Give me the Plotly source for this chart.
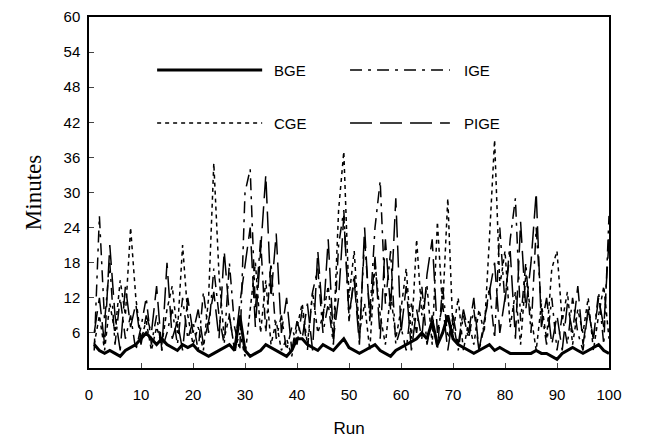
import plotly.graph_objects as go

runs = list(range(1, 101))

bge = [4, 3, 2.5, 3, 2.5, 2, 3, 3.5, 4, 5,
       6, 5, 4, 5, 4, 3.5, 3, 4, 3.5, 4,
       3, 2.5, 2, 2.5, 3, 3.5, 4, 3, 9, 3,
       2, 2.5, 3, 4, 3.5, 3, 2.5, 2, 3, 5,
       5, 4, 3.5, 3, 4, 3.5, 3, 4, 5, 3.5,
       3, 2.5, 3, 3.5, 4, 3, 2.5, 2, 3, 3.5,
       4, 4.5, 5, 6, 5, 8, 4, 6, 9, 5,
       4, 3.5, 3, 2.5, 3, 3.5, 4, 3, 3.5, 3,
       2.5, 2.5, 2.5, 2.5, 2.5, 3, 2.5, 2.5, 2, 1.5,
       2.5, 3, 3.5, 3, 2.5, 3, 3.5, 4, 3, 2.5]

cge = [4, 9, 3, 11, 6, 15, 9, 24, 12, 5,
       8, 3, 7, 4, 10, 14, 6, 21, 9, 4,
       7, 3, 12, 35, 16, 5, 9, 3, 6, 2,
       10, 18, 6, 15, 4, 8, 3, 5, 2, 7,
       11, 4, 13, 6, 9, 14, 5, 27, 37, 12,
       20, 6, 11, 3, 18, 9, 4, 13, 5, 10,
       17, 5, 22, 9, 14, 4, 25, 10, 29, 6,
       12, 3, 8, 4, 10, 6, 22, 39, 14, 20,
       7, 13, 4, 16, 9, 3, 11, 5, 17, 20,
       8, 13, 4, 10, 6, 12, 3, 9, 14, 5]

ige = [3, 26, 8, 18, 4, 12, 5, 9, 3, 7,
       12, 4, 9, 3, 6, 10, 4, 12, 5, 8,
       3, 13, 6, 17, 9, 4, 18, 7, 3, 30,
       34, 10, 22, 6, 18, 5, 9, 3, 7, 4,
       10, 3, 13, 17, 6, 11, 4, 21, 27, 8,
       16, 5, 22, 9, 24, 32, 11, 20, 4, 7,
       3, 11, 6, 14, 4, 9, 3, 14, 5, 8,
       3, 9, 5, 10, 3, 7, 14, 5, 24, 11,
       22, 29, 8, 18, 6, 24, 10, 4, 12, 3,
       9, 4, 12, 6, 3, 10, 5, 13, 4, 26]

pige = [6, 12, 4, 21, 9, 3, 14, 7, 11, 4,
        9, 6, 14, 3, 18, 5, 8, 3, 12, 6,
        10, 4, 8, 13, 5, 20, 9, 3, 11, 18,
        24, 7, 20, 33, 12, 23, 6, 12, 3, 8,
        5, 11, 3, 20, 8, 22, 5, 12, 26, 9,
        15, 4, 24, 8, 19, 5, 22, 10, 29, 6,
        14, 3, 10, 5, 16, 22, 6, 11, 3, 9,
        4, 10, 6, 12, 3, 8, 13, 18, 6, 12,
        20, 5, 25, 10, 18, 30, 7, 12, 4, 9,
        3, 11, 6, 14, 4, 10, 5, 12, 7, 22]

names = ["BGE", "IGE", "CGE", "PIGE"]
y_ticks = [6, 12, 18, 24, 30, 36, 42, 48, 54, 60]
x_ticks = [0, 10, 20, 30, 40, 50, 60, 70, 80, 90, 100]

styles = {
    "BGE": dict(width=3, dash="solid"),
    "IGE": dict(width=1.5, dash="12px,6px,3px,6px"),
    "CGE": dict(width=1.5, dash="4px,4px"),
    "PIGE": dict(width=1.5, dash="22px,8px"),
}
series = {"BGE": bge, "IGE": ige, "CGE": cge, "PIGE": pige}

fig = go.Figure()
for nm in ["CGE", "IGE", "PIGE", "BGE"]:
    fig.add_trace(go.Scatter(x=runs, y=series[nm], mode="lines", name=nm,
                             line=dict(color="black", **styles[nm]),
                             showlegend=False))

# manual legend (line samples + labels) in paper coordinates
leg = [("BGE", 0.131, 0.333, 0.352, 0.849),
       ("IGE", 0.502, 0.694, 0.717, 0.849),
       ("CGE", 0.131, 0.333, 0.352, 0.698),
       ("PIGE", 0.502, 0.694, 0.717, 0.698)]
for nm, x0, x1, xt, yy in leg:
    fig.add_shape(type="line", xref="paper", yref="paper", x0=x0, x1=x1, y0=yy, y1=yy,
                  line=dict(color="black", **styles[nm]))
    fig.add_annotation(xref="paper", yref="paper", x=xt, y=yy, text=nm, showarrow=False,
                       xanchor="left", yanchor="middle",
                       font=dict(family="Liberation Sans, Arial", size=15, color="black"))

fig.update_layout(
    width=646, height=442,
    margin=dict(l=81, r=45, t=9, b=82),
    plot_bgcolor="white", paper_bgcolor="white",
    font=dict(family="Liberation Sans, Arial", color="black", size=15),
)
fig.update_xaxes(range=[0, 100], tickvals=x_ticks, ticks="inside", ticklen=5,
                 showgrid=False, zeroline=False, showline=True, linecolor="black",
                 linewidth=1.5, mirror=True, ticklabelstandoff=12, automargin=False,
                 title=dict(text="Run", font=dict(size=17), standoff=20))
fig.update_yaxes(range=[0, 60], tickvals=y_ticks, ticks="inside", ticklen=5,
                 showgrid=False, zeroline=False, showline=True, linecolor="black",
                 linewidth=1.5, mirror=True, ticklabelstandoff=4, automargin=False,
                 title=dict(text="Minutes", font=dict(family="Liberation Serif, Times New Roman", size=23),
                            standoff=16))

fig.write_html("out.html")
